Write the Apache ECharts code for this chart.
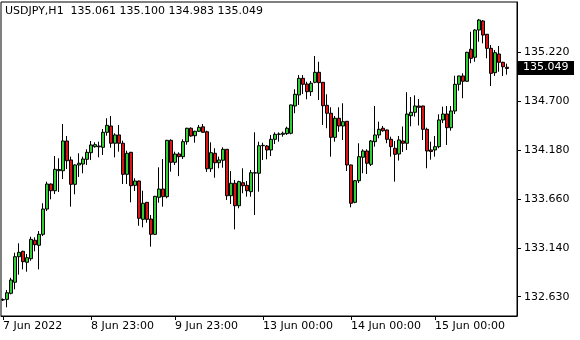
<!DOCTYPE html>
<html>
<head>
<meta charset="utf-8">
<script src="https://cdn.jsdelivr.net/npm/echarts@6/dist/echarts.min.js"></script>
<style>
html,body{margin:0;padding:0;background:#fff;}
#chart{width:580px;height:340px;}
</style>
</head>
<body>
<div id="chart"></div>
<script>
const symbolTitle = 'USDJPY,H1';
const opens = [132.595,132.602,132.666,132.783,133.054,133.111,132.995,133.033,133.228,133.175,
133.291,133.559,133.824,133.753,133.965,133.965,134.280,134.079,133.821,134.026,
134.036,134.086,134.156,134.220,134.227,134.213,134.372,134.439,134.256,134.344,
134.256,133.927,134.160,133.810,133.856,133.450,133.630,133.453,133.291,133.683,
133.771,133.690,134.287,134.054,134.142,134.114,134.273,134.415,134.336,134.383,
134.430,134.378,133.986,134.150,134.050,134.076,134.192,133.700,133.832,133.594,
133.838,133.810,133.743,133.944,133.938,134.230,134.227,134.185,134.298,134.351,
134.351,134.358,134.362,134.651,134.768,134.944,134.884,134.803,134.902,135.008,
134.902,134.658,134.574,134.319,134.521,134.439,134.489,134.026,133.630,133.859,
134.108,134.174,134.033,134.273,134.344,134.415,134.397,134.298,134.203,134.142,
134.280,134.256,134.548,134.584,134.651,134.651,134.404,134.185,134.185,134.220,
134.503,134.566,134.421,134.598,134.881,134.969,134.913,135.252,135.167,135.456,
135.552,135.411,135.262,135.004,135.202,135.114,135.061];
const closes = [132.600,132.672,132.807,133.054,133.100,133.001,133.043,133.238,133.181,133.291,
133.559,133.824,133.753,133.980,133.978,134.280,134.071,133.821,134.026,134.044,
134.089,134.160,134.238,134.241,134.218,134.372,134.446,134.256,134.344,134.256,
133.927,134.150,133.806,133.856,133.461,133.620,133.450,133.291,133.694,133.771,
133.690,134.287,134.054,134.142,134.114,134.273,134.415,134.333,134.383,134.425,
134.372,133.986,134.156,134.050,134.079,134.192,133.700,133.832,133.594,133.849,
133.806,133.753,133.944,133.940,134.230,134.234,134.185,134.298,134.351,134.354,
134.362,134.415,134.662,134.775,134.944,134.881,134.803,134.892,135.008,134.898,
134.654,134.574,134.319,134.521,134.439,134.485,134.026,133.620,133.859,134.114,
134.174,134.044,134.280,134.344,134.404,134.389,134.298,134.220,134.139,134.291,
134.256,134.566,134.584,134.651,134.637,134.404,134.174,134.169,134.220,134.503,
134.566,134.421,134.598,134.881,134.969,134.913,135.220,135.156,135.456,135.562,
135.403,135.262,134.997,135.216,135.114,135.067,135.049];
const lows = [132.585,132.518,132.655,132.708,132.863,132.920,132.895,133.011,133.111,132.920,
133.273,133.538,133.662,133.718,133.740,133.877,133.983,133.584,133.715,133.899,
133.938,134.026,134.079,134.209,134.107,134.132,134.336,134.209,134.107,134.167,
133.824,133.824,133.630,133.750,133.382,133.365,133.414,133.160,133.284,133.626,
133.584,133.673,133.955,134.026,133.908,134.089,134.241,134.326,134.262,134.375,
134.368,133.952,133.952,133.891,133.991,133.997,133.655,133.612,133.344,133.567,
133.726,133.690,133.690,133.496,133.743,134.079,134.086,134.121,134.248,134.273,
134.326,134.344,134.351,134.574,134.662,134.778,134.722,134.757,134.892,134.714,
134.450,134.415,134.114,134.273,134.378,134.291,133.962,133.577,133.620,133.835,
133.938,133.930,134.015,134.220,134.309,134.378,134.256,134.114,133.849,134.073,
134.164,134.185,134.436,134.538,134.444,134.291,133.991,134.082,134.114,134.203,
134.470,134.238,134.389,134.566,134.813,134.733,134.908,135.104,135.120,135.332,
135.315,135.156,134.863,134.969,135.014,134.969,134.983];
const highs = [132.612,132.701,132.831,133.096,133.196,133.117,133.082,133.266,133.259,133.326,
133.620,133.849,133.830,134.121,134.097,134.460,134.333,134.114,134.033,134.150,
134.114,134.192,134.280,134.266,134.273,134.407,134.521,134.545,134.362,134.450,
134.283,134.177,134.165,133.885,133.860,133.753,133.634,133.496,133.698,134.001,
134.089,134.292,134.298,134.167,134.160,134.298,134.420,134.425,134.389,134.450,
134.460,134.389,134.266,134.203,134.114,134.213,134.195,133.962,133.867,133.859,
133.991,133.856,133.973,134.372,134.273,134.262,134.238,134.344,134.372,134.372,
134.379,134.432,134.665,134.828,134.979,134.979,134.908,134.916,135.181,135.120,
134.905,134.775,134.637,134.545,134.637,134.680,134.492,134.030,133.867,134.256,
134.192,134.192,134.291,134.651,134.485,134.439,134.400,134.326,134.280,134.333,
134.434,134.797,134.746,134.764,134.725,134.655,134.421,134.273,134.333,134.563,
134.644,134.651,134.651,134.972,134.972,134.997,135.225,135.438,135.464,135.573,
135.562,135.414,135.297,135.244,135.287,135.120,135.100];
const timeTickIdx = [0, 22, 43, 65, 87, 108];
const timeTickLabels = ['7 Jun 2022', '8 Jun 23:00', '9 Jun 23:00', '13 Jun 00:00', '14 Jun 00:00', '15 Jun 00:00'];
const priceTicks = [132.630, 133.140, 133.660, 134.180, 134.700, 135.220];
const yMin = 132.4255, yMax = 135.753;
const emptySlots = 2;

const total = opens.length + emptySlots;
const cats = [];
for (let i = 0; i < total; i++) {
  const k = timeTickIdx.indexOf(i);
  cats.push(k >= 0 ? timeTickLabels[k] : 'b' + i);
}
const candles = opens.map((o, i) => [o, closes[i], lows[i], highs[i]]);
const last = opens.length - 1;
const font = 'DejaVu Sans';
const titleText = symbolTitle + '  ' + [opens[last], highs[last], lows[last], closes[last]].map(v => v.toFixed(3)).join(' ');

const chart = echarts.init(document.getElementById('chart'), null, {renderer: 'canvas'});
const baseOption = {
  animation: false,
  backgroundColor: '#fff',
  grid: {left: 1, right: 63, top: 2, bottom: 24, show: true, borderColor: '#000', borderWidth: 1, backgroundColor: '#fff'},
  xAxis: {
    type: 'category', data: cats, boundaryGap: true,
    axisLine: {show: true, lineStyle: {color: '#000', width: 1}},
    axisTick: {show: true, alignWithLabel: true, length: 4, lineStyle: {color: '#000'},
      interval: (i) => timeTickIdx.indexOf(i) >= 0},
    axisLabel: {show: true, interval: (i) => timeTickIdx.indexOf(i) >= 0, align: 'left',
      margin: 5, color: '#000', fontFamily: font, fontSize: 11},
    splitLine: {show: false}
  },
  yAxis: {
    type: 'value', position: 'right', min: yMin, max: yMax, scale: true,
    axisLine: {show: true, lineStyle: {color: '#000', width: 1}},
    axisTick: {show: true, length: 4, lineStyle: {color: '#000'}, customValues: priceTicks},
    axisLabel: {show: true, margin: 7, color: '#000', fontFamily: font, fontSize: 11,
      customValues: priceTicks, formatter: v => v.toFixed(3)},
    splitLine: {show: false}
  },
  series: [{
    type: 'candlestick',
    data: candles,
    barWidth: 3,
    itemStyle: {color: '#32cd32', color0: '#dc1414', borderColor: '#000', borderColor0: '#000', borderWidth: 1}
  }]
};
chart.setOption(baseOption);

let py = chart.convertToPixel({yAxisIndex: 0}, closes[last]);
if (typeof py !== 'number' || !isFinite(py)) {
  const pt = chart.convertToPixel({seriesIndex: 0}, [last, closes[last]]);
  py = pt ? pt[1] : 68;
}
py = Math.round(py);
baseOption.graphic = {
  elements: [
    {type: 'text', z: 100, x: 5, y: 6,
      style: {text: titleText, font: '11px "' + font + '"', fill: '#000'}},
    {type: 'rect', z: 100, shape: {x: 518, y: py - 7, width: 56, height: 14}, style: {fill: '#000'}},
    {type: 'text', z: 101, x: 523, y: py - 6,
      style: {text: closes[last].toFixed(3), font: '11px "' + font + '"', fill: '#fff'}}
  ]
};
chart.setOption(baseOption, true);
</script>
</body>
</html>
